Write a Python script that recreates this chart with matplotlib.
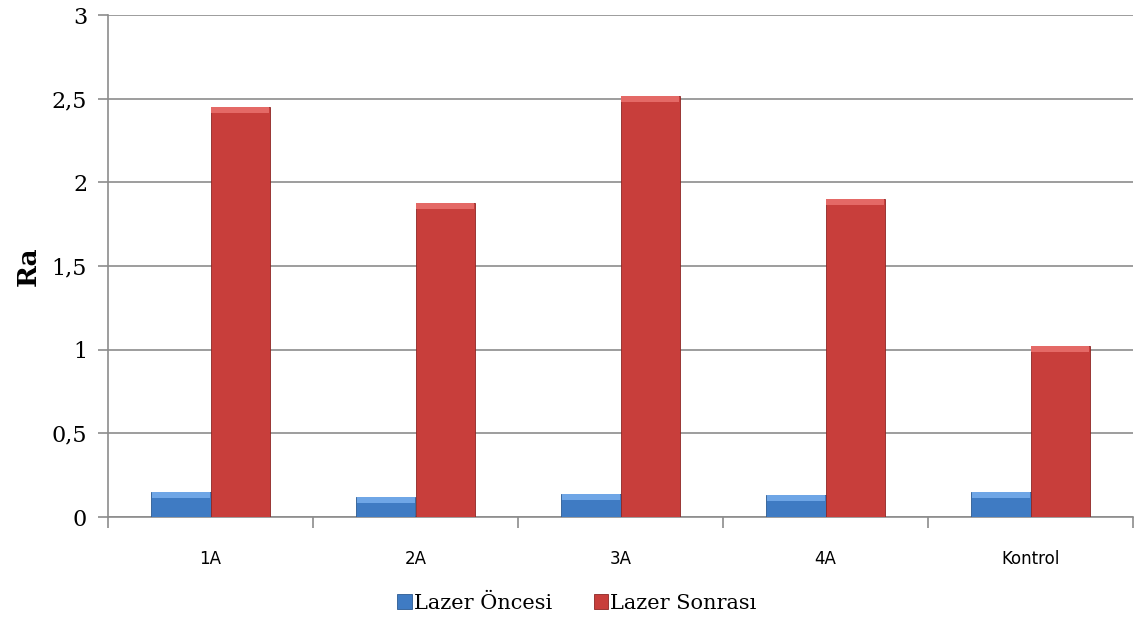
import matplotlib
matplotlib.use('Agg')
import matplotlib.pyplot as plt
import numpy as np

categories = ['1A', '2A', '3A', '4A', 'Kontrol']
lazer_oncesi = [0.15, 0.117, 0.135, 0.13, 0.147]
lazer_sonrasi = [2.45, 1.876, 2.513, 1.90, 1.024]
y_ticks = [0, 0.5, 1, 1.5, 2, 2.5, 3]
y_tick_labels = ['0', '0,5', '1', '1,5', '2', '2,5', '3']

blue = '#3F7BC3'
blue_light = '#6FA6E6'
red = '#C83E3B'
red_light = '#E46966'
grid_color = '#8C8C8C'

fig = plt.figure(figsize=(11.34, 6.32), dpi=100)
ax = fig.add_axes([108 / 1134, 1 - 517 / 632, (1133 - 108) / 1134, (517 - 15) / 632])

x = np.arange(len(categories))
w = 0.29
bevel = 0.035

b1 = ax.bar(x - w / 2, lazer_oncesi, w, color=blue, edgecolor='#2C5A92', linewidth=0.6,
            label='Lazer Öncesi', zorder=3)
b2 = ax.bar(x + w / 2, lazer_sonrasi, w, color=red, edgecolor='#8E2624', linewidth=0.6,
            label='Lazer Sonrası', zorder=3)
# lighter top band for the bevel look
ax.bar(x - w / 2, bevel, w * 0.97, bottom=np.array(lazer_oncesi) - bevel,
       color=blue_light, linewidth=0, zorder=4)
ax.bar(x + w / 2, bevel, w * 0.97, bottom=np.array(lazer_sonrasi) - bevel,
       color=red_light, linewidth=0, zorder=4)

ax.set_xlim(-0.5, len(categories) - 0.5)
ax.set_ylim(0, 3)
ax.set_yticks(y_ticks)
ax.set_yticklabels(y_tick_labels, family='DejaVu Serif', fontsize=16)
ax.yaxis.grid(True, color=grid_color, linewidth=1.2, zorder=0)
ax.set_axisbelow(True)

ax.set_xticks(x)
ax.set_xticklabels(categories, family='DejaVu Sans', fontsize=12)
ax.set_xticks(np.arange(len(categories) + 1) - 0.5, minor=True)
ax.tick_params(axis='x', which='major', length=0, pad=24)
ax.tick_params(axis='x', which='minor', length=8, color=grid_color, width=1.2)
ax.tick_params(axis='y', length=7, color=grid_color, width=1.2, pad=8)

for s in ['top', 'right']:
    ax.spines[s].set_visible(False)
for s in ['left', 'bottom']:
    ax.spines[s].set_color(grid_color)
    ax.spines[s].set_linewidth(1.2)

ax.set_ylabel('Ra', family='DejaVu Serif', fontweight='bold', fontsize=19, labelpad=8)

leg = fig.legend(handles=[b1, b2], loc='center', bbox_to_anchor=(577 / 1134, 1 - 603 / 632),
                 ncol=2, frameon=False, prop={'family': 'DejaVu Serif', 'size': 15},
                 handlelength=0.7, handleheight=0.7, handletextpad=0.1, columnspacing=2.0)

fig.savefig('out.png', dpi=100)
